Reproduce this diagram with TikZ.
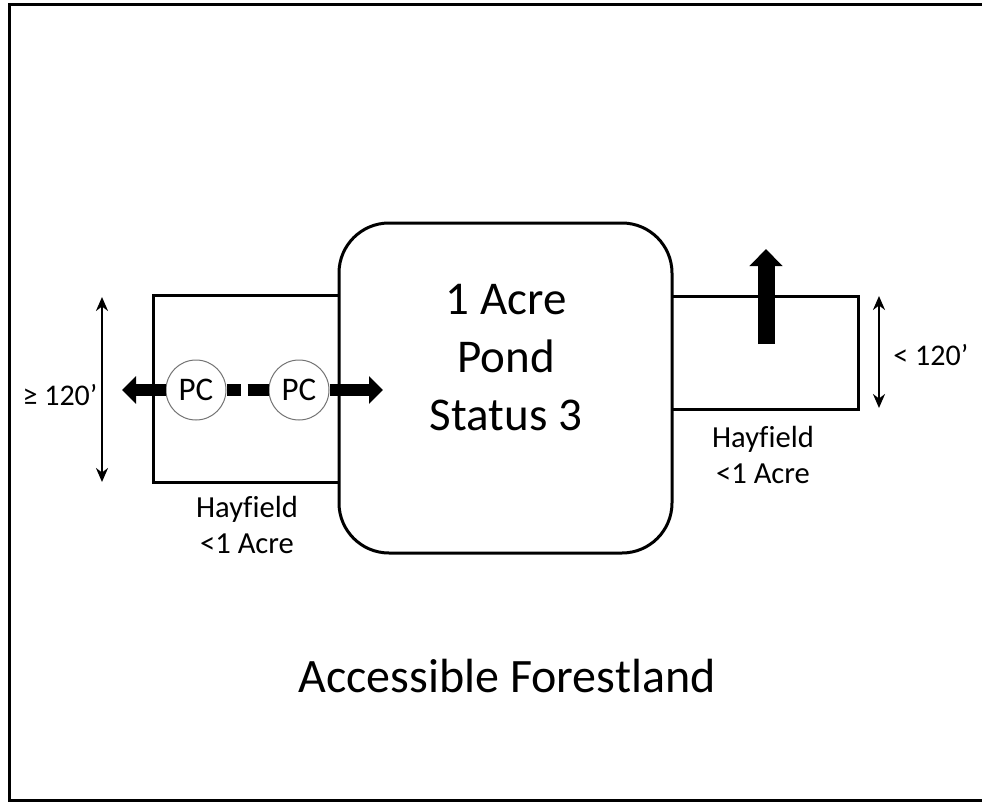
\documentclass[tikz,border=0pt]{standalone}
\usepackage{fontspec}
\setmainfont{Carlito}[Ligatures=CommonOff]
\usetikzlibrary{arrows.meta,positioning}
\tikzset{
    %Define standard arrow tip
    >={Stealth[length=7pt,width=6pt]},
    %Define style for boxes
    field/.style={
           draw=black, line width=1.5pt},
    pond/.style={
           rectangle,
           rounded corners=25pt,
           draw=black, line width=1.5pt,
           minimum width=166.5pt,
           minimum height=165pt},
    pc/.style={
           circle,
           draw=black!55, line width=0.5pt,
           fill=white,
           minimum size=30pt,
           inner sep=0pt,
           font=\fontsize{16.5}{18}\selectfont},
    % Define arrow style
    flow/.style={
           line width=6pt,
           -{Triangle[length=7pt,width=13.5pt]}},
    dim/.style={
           <->,
           line width=1.3pt},
    txt/.style={inner sep=0pt, align=center}
}

\begin{document}
\begin{tikzpicture}[x=0.5pt,y=-0.5pt]
\useasboundingbox (0,0) rectangle (982,803);
% frame, open on the right
\draw[line width=1.5pt] (982,4.7) -- (9.5,4.7) -- (9.5,800) -- (982,800);
% pond and fields
\node[pond](pond) at (505.5,388){};
\node[txt, font=\fontsize{23.5}{29}\selectfont](pondlabel) at (506,358){1 Acre\\Pond\\Status 3};
\draw[field] (339,295) -| (153,482) -- (339,482);
\draw[field] (672,296) -| (858,409) -- (672,409);
\node[txt, font=\fontsize{15.3}{18}\selectfont](hayleft) at (247,525){Hayfield\\<1 Acre};
\node[txt, font=\fontsize{15.3}{18}\selectfont](hayright) at (763,455){Hayfield\\<1 Acre};
% pipe crossings
\node[pc](pc1) at (196,390){PC};
\node[pc](pc2) at (299,390){PC};
\coordinate (lefttip) at (122,390);
\coordinate (righttip) at (383,390);
\coordinate (up0) at (766,344);
\coordinate (up1) at (766,249);
\path[flow]
	(pc1) edge (lefttip)
	(pc2) edge (righttip);
\draw[line width=6pt, dash pattern={on 7pt off 3.5pt on 11pt off 10pt}] (pc1) -- (pc2);
\draw[line width=8.5pt, -{Triangle[length=8.5pt,width=16pt]}] (up0) -- (up1);
% widths
\coordinate (l1) at (102,297);
\coordinate (l2) at (102,482);
\coordinate (r1) at (879,296);
\coordinate (r2) at (879,408);
\draw[dim] (l1) -- (l2);
\draw[dim] (r1) -- (r2);
\node[txt, anchor=base, font=\fontsize{15}{17}\selectfont](wideleft) at (60,405){≥ 120’};
\node[txt, anchor=base west, font=\fontsize{15}{17}\selectfont](wideright) at (893,365){< 120’};
\node[txt, anchor=base, font=\fontsize{24}{29}\selectfont](forest) at (507,692){Accessible Forestland};
\end{tikzpicture}
\end{document}
